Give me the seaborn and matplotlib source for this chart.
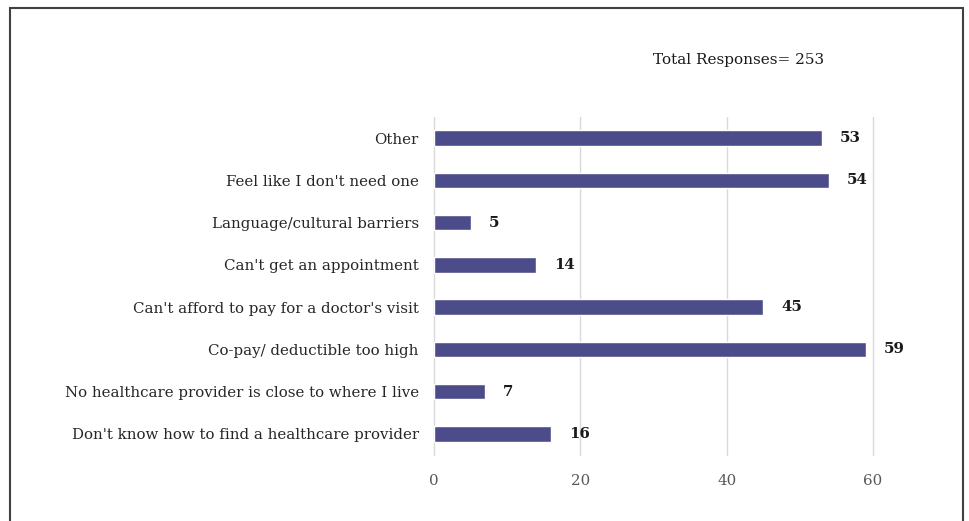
import matplotlib
matplotlib.use("Agg")
import matplotlib.pyplot as plt
import seaborn as sns
import pandas as pd
from matplotlib.patches import Rectangle

categories = [
    "Other",
    "Feel like I don't need one",
    "Language/cultural barriers",
    "Can't get an appointment",
    "Can't afford to pay for a doctor's visit",
    "Co-pay/ deductible too high",
    "No healthcare provider is close to where I live",
    "Don't know how to find a healthcare provider",
]
values = [53, 54, 5, 14, 45, 59, 7, 16]
xticks = [0, 20, 40, 60]
note = "Total Responses= 253"

sns.set_theme(style="white")
plt.rcParams['font.family'] = ['DejaVu Serif']

df = pd.DataFrame({"cat": categories, "val": values})

fig = plt.figure(figsize=(9.7, 5.21), dpi=100)
ax = fig.add_axes([434/970, 1-455/521, (873-434)/970, (455-117)/521])
sns.barplot(data=df, y="cat", x="val", orient="h", color="#4D4C8A",
            width=0.37, saturation=1, ax=ax, zorder=3)

ax.set_xlim(0, 60)
ax.set_xticks(xticks)
ax.set_xticklabels([str(t) for t in xticks], fontsize=10.8, color="#595959")
ax.set_xlabel("")
ax.set_ylabel("")
ax.tick_params(axis="y", labelsize=10.8, labelcolor="#262626", length=0, pad=11)
ax.tick_params(axis="x", length=0, pad=14)
ax.grid(axis="x", color="#d9d9d9", lw=1, zorder=0)
ax.grid(axis="y", visible=False)
for gl in ax.get_xgridlines():
    gl.set_clip_on(False)
for s in ax.spines.values():
    s.set_visible(False)

for i, v in enumerate(values):
    ax.annotate(str(v), xy=(v, i), xytext=(13, 0), textcoords="offset points",
                va="center", ha="left", fontsize=10.8, fontweight="bold",
                color="#1a1a1a", annotation_clip=False)

fig.text(653/970, 1-60/521, note, fontsize=11, color="#1a1a1a", va="center", ha="left")

fig.patches.append(Rectangle((10/970, -0.05), (963-10)/970, 1.05-8/521,
                             transform=fig.transFigure, fill=False,
                             edgecolor="#404040", lw=1.5))

fig.savefig("out.png", dpi=100, facecolor="white")
